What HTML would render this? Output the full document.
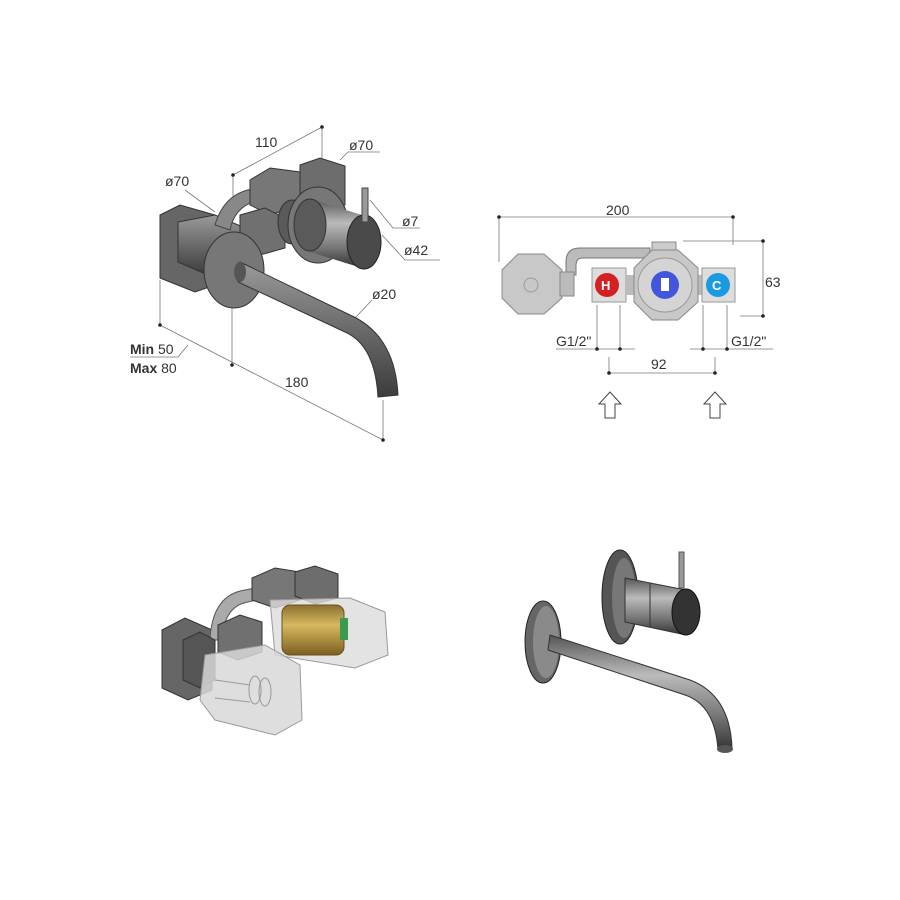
<!DOCTYPE html>
<html><head><meta charset="utf-8"><style>
html,body{margin:0;padding:0;background:#fff;}
svg{display:block;}
text{font-family:"Liberation Sans",Arial,sans-serif;fill:#333;}
</style></head><body>
<svg width="900" height="900" viewBox="0 0 900 900" xmlns="http://www.w3.org/2000/svg">
<defs>
<linearGradient id="metal" x1="0" y1="0" x2="0" y2="1">
<stop offset="0" stop-color="#9a9a9a"/><stop offset="0.5" stop-color="#6a6a6a"/><stop offset="1" stop-color="#3c3c3c"/></linearGradient>
<linearGradient id="cyl" x1="0" y1="0" x2="0" y2="1">
<stop offset="0" stop-color="#555"/><stop offset="0.35" stop-color="#bbb"/><stop offset="0.7" stop-color="#777"/><stop offset="1" stop-color="#333"/></linearGradient>
<linearGradient id="brass" x1="0" y1="0" x2="0" y2="1">
<stop offset="0" stop-color="#8a7030"/><stop offset="0.4" stop-color="#d8b860"/><stop offset="1" stop-color="#7a6020"/></linearGradient>
</defs>

<!-- ===== TOP LEFT ===== -->
<g stroke="#777" stroke-width="0.8" fill="none">
<line x1="233" y1="175" x2="322" y2="127"/>
<line x1="322" y1="127" x2="322" y2="180"/>
<line x1="233" y1="175" x2="233" y2="205"/>
<line x1="160" y1="325" x2="383" y2="440"/>
<line x1="160" y1="280" x2="160" y2="325"/>
<line x1="232" y1="292" x2="232" y2="365"/>
<line x1="383" y1="400" x2="383" y2="440"/>
<polyline points="340,160 348,152 380,152"/>
<polyline points="185,190 215,212"/>
<polyline points="370,200 393,228 420,228"/>
<polyline points="382,235 405,260 440,260"/>
<polyline points="372,300 355,318"/>
<polyline points="130,357 178,357 188,345"/>
</g>
<g fill="#222">
<circle cx="233" cy="175" r="1.8"/><circle cx="322" cy="127" r="1.8"/>
<circle cx="160" cy="325" r="1.8"/><circle cx="232" cy="365" r="1.8"/><circle cx="383" cy="440" r="1.8"/>
</g>
<!-- body -->
<polygon points="160,215 180,205 215,215 215,285 195,292 160,278" fill="#666" stroke="#333"/>
<polygon points="178,222 215,215 245,228 245,265 208,275 178,262" fill="url(#metal)" stroke="#333"/>
<path d="M215,225 Q225,190 260,188 L300,183 L300,195 L260,200 Q235,205 230,230 Z" fill="#888" stroke="#444"/>
<polygon points="250,180 270,168 300,172 300,205 270,215 250,205" fill="#777" stroke="#333"/>
<polygon points="300,165 320,158 345,166 345,205 320,210 300,200" fill="#6d6d6d" stroke="#333"/>
<polygon points="240,215 265,208 285,218 285,248 260,255 240,245" fill="#707070" stroke="#333"/>
<ellipse cx="292" cy="222" rx="14" ry="22" fill="#5a5a5a" stroke="#333"/>
<!-- mixer -->
<ellipse cx="318" cy="225" rx="30" ry="38" fill="#777" stroke="#333"/>
<path d="M310,199 L362,215 L362,268 L310,252 Z" fill="url(#cyl)"/>
<ellipse cx="310" cy="225" rx="16" ry="26" fill="#5a5a5a" stroke="#333"/>
<ellipse cx="364" cy="242" rx="17" ry="27" fill="#4a4a4a" stroke="#222"/>
<rect x="362" y="188" width="6" height="34" fill="#999" stroke="#444"/>
<!-- spout plate -->
<ellipse cx="234" cy="270" rx="30" ry="38" fill="#777" stroke="#333"/>
<path d="M240,262 L350,315 Q395,335 398,395 L378,397 Q375,345 345,332 L238,282 Z" fill="url(#metal)" stroke="#333"/>
<ellipse cx="240" cy="272" rx="6" ry="10" fill="#555"/>
<g font-size="14">
<text x="255" y="147">110</text>
<text x="349" y="150">ø70</text>
<text x="165" y="186">ø70</text>
<text x="402" y="226">ø7</text>
<text x="404" y="255">ø42</text>
<text x="372" y="299">ø20</text>
<text x="130" y="354"><tspan font-weight="bold">Min</tspan> 50</text>
<text x="130" y="373"><tspan font-weight="bold">Max</tspan> 80</text>
<text x="285" y="387">180</text>
</g>

<!-- ===== TOP RIGHT ===== -->
<g stroke="#777" stroke-width="0.8" fill="none">
<line x1="499" y1="217" x2="733" y2="217"/>
<line x1="499" y1="217" x2="499" y2="262"/>
<line x1="733" y1="217" x2="733" y2="245"/>
<line x1="683" y1="241" x2="763" y2="241"/>
<line x1="740" y1="316" x2="763" y2="316"/>
<line x1="763" y1="241" x2="763" y2="316"/>
<line x1="556" y1="349" x2="635" y2="349"/>
<line x1="597" y1="305" x2="597" y2="349"/>
<line x1="620" y1="305" x2="620" y2="349"/>
<line x1="690" y1="349" x2="773" y2="349"/>
<line x1="703" y1="305" x2="703" y2="349"/>
<line x1="727" y1="305" x2="727" y2="349"/>
<line x1="609" y1="357" x2="609" y2="373"/>
<line x1="715" y1="357" x2="715" y2="373"/>
<line x1="609" y1="373" x2="715" y2="373"/>
</g>
<g fill="#222">
<circle cx="499" cy="217" r="1.8"/><circle cx="733" cy="217" r="1.8"/>
<circle cx="763" cy="241" r="1.8"/><circle cx="763" cy="316" r="1.8"/>
<circle cx="597" cy="349" r="1.8"/><circle cx="620" cy="349" r="1.8"/>
<circle cx="703" cy="349" r="1.8"/><circle cx="727" cy="349" r="1.8"/>
<circle cx="609" cy="373" r="1.8"/><circle cx="715" cy="373" r="1.8"/>
</g>
<path d="M566,275 L566,262 Q566,248 580,248 L650,248 L650,258 L582,258 Q576,258 576,266 L576,275 Z" fill="#bbb" stroke="#777"/>
<rect x="652" y="242" width="24" height="14" fill="#ccc" stroke="#888"/>
<polygon points="518,254 544,254 562,270 562,298 544,314 518,314 502,298 502,270" fill="#c8c8c8" stroke="#888"/>
<rect x="560" y="272" width="14" height="24" fill="#bbb" stroke="#888"/>
<circle cx="531" cy="285" r="7" fill="none" stroke="#999"/>
<rect x="592" y="268" width="34" height="34" fill="#ddd" stroke="#999"/>
<circle cx="607" cy="285" r="12" fill="#d42020"/>
<text x="601" y="290" font-size="13" font-weight="bold" style="fill:#fff">H</text>
<rect x="626" y="275" width="8" height="20" fill="#bbb"/>
<rect x="697" y="275" width="8" height="20" fill="#bbb"/>
<polygon points="652,250 678,250 698,268 698,302 678,320 652,320 634,302 634,268" fill="#c8c8c8" stroke="#888"/>
<circle cx="665" cy="285" r="27" fill="#d4d4d4" stroke="#999"/>
<circle cx="665" cy="285" r="14" fill="#4455dd"/>
<rect x="661" y="278" width="8" height="13" fill="#fff"/>
<rect x="702" y="268" width="33" height="34" fill="#ddd" stroke="#999"/>
<circle cx="718" cy="285" r="12" fill="#1a9ae0"/>
<text x="712" y="290" font-size="13" font-weight="bold" style="fill:#fff">C</text>
<g font-size="14">
<text x="606" y="215">200</text>
<text x="765" y="287">63</text>
<text x="556" y="346">G1/2"</text>
<text x="731" y="346">G1/2"</text>
<text x="651" y="369">92</text>
</g>
<g fill="#fff" stroke="#444" stroke-width="1">
<path d="M610,392 L621,404 L615,404 L615,418 L605,418 L605,404 L599,404 Z"/>
<path d="M715,392 L726,404 L720,404 L720,418 L710,418 L710,404 L704,404 Z"/>
</g>

<!-- ===== BOTTOM LEFT ===== -->
<polygon points="162,630 185,618 212,630 212,690 188,700 162,688" fill="#666" stroke="#333"/>
<path d="M210,640 Q212,595 245,590 L265,586 L265,598 L248,602 Q224,606 222,640 Z" fill="#aaa" stroke="#555"/>
<polygon points="252,578 275,568 300,572 300,600 275,608 252,600" fill="#777" stroke="#333"/>
<polygon points="295,572 315,566 338,574 338,598 315,604 295,596" fill="#6d6d6d" stroke="#333"/>
<polygon points="218,625 240,615 262,622 262,652 238,660 218,652" fill="#707070" stroke="#333"/>
<polygon points="183,640 200,632 215,640 215,680 200,688 183,680" fill="#555" stroke="#333"/>
<path d="M270,600 L350,598 L385,612 L388,655 L355,668 L275,655 Z" fill="#dcdcdc" fill-opacity="0.8" stroke="#999"/>
<rect x="282" y="605" width="62" height="50" rx="8" fill="url(#brass)" stroke="#6a5020"/>
<rect x="340" y="618" width="8" height="22" fill="#3a9a50"/>
<path d="M205,655 L265,645 L300,665 L302,720 L275,735 L215,720 L200,700 Z" fill="#d8d8d8" fill-opacity="0.85" stroke="#999"/>
<g stroke="#999" fill="none"><ellipse cx="255" cy="690" rx="6" ry="14"/><ellipse cx="265" cy="692" rx="6" ry="14"/><line x1="215" y1="680" x2="250" y2="685"/><line x1="215" y1="698" x2="250" y2="702"/></g>

<!-- ===== BOTTOM RIGHT ===== -->
<ellipse cx="620" cy="597" rx="18" ry="47" fill="#555" stroke="#222"/>
<ellipse cx="624" cy="598" rx="12" ry="40" fill="#777"/>
<path d="M625,578 L686,590 L686,635 L625,622 Z" fill="url(#cyl)" stroke="#333"/>
<line x1="650" y1="583" x2="650" y2="627" stroke="#333"/>
<ellipse cx="686" cy="612" rx="14" ry="23" fill="#333" stroke="#111"/>
<rect x="679" y="552" width="5" height="36" fill="#999" stroke="#555"/>
<ellipse cx="543" cy="642" rx="18" ry="41" fill="#666" stroke="#222"/>
<ellipse cx="546" cy="642" rx="13" ry="36" fill="#8a8a8a"/>
<path d="M550,635 L690,680 Q730,695 732,748 L718,750 Q715,705 685,695 L548,650 Z" fill="url(#cyl)" stroke="#333"/>
<ellipse cx="725" cy="749" rx="8" ry="4" fill="#555"/>
</svg>
</body></html>
